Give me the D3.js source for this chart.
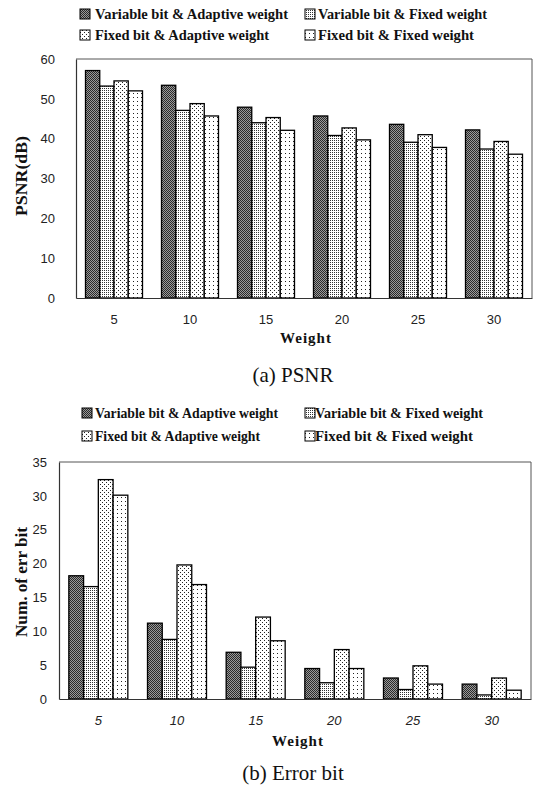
<!DOCTYPE html>
<html><head><meta charset="utf-8">
<script src="https://cdn.jsdelivr.net/npm/d3@7"></script>
<style>body{margin:0;background:#fff}svg{display:block}</style>
</head><body>
<svg id="c" width="535" height="796"></svg>
<script>
const weights = ["5","10","15","20","25","30"];
const seriesNames = ["Variable bit & Adaptive weight","Variable bit & Fixed weight","Fixed bit & Adaptive weight","Fixed bit & Fixed weight"];
const psnrVarAdap = [57.1, 53.4, 47.9, 45.7, 43.6, 42.2];
const psnrVarFix  = [53.2, 47.1, 44.0, 40.8, 39.1, 37.4];
const psnrFixAdap = [54.5, 48.8, 45.3, 42.7, 41.0, 39.3];
const psnrFixFix  = [52.0, 45.7, 42.1, 39.7, 37.8, 36.1];
const errVarAdap = [18.2, 11.2, 6.9, 4.5, 3.1, 2.2];
const errVarFix  = [16.6, 8.8, 4.7, 2.4, 1.4, 0.6];
const errFixAdap = [32.4, 19.8, 12.1, 7.3, 4.9, 3.1];
const errFixFix  = [30.1, 16.9, 8.6, 4.5, 2.2, 1.3];
const psnrTicks = [0,10,20,30,40,50,60];
const errTicks = [0,5,10,15,20,25,30,35];

const svg = d3.select("#c");
const defs = svg.append("defs");
function pat(id, size, bg, dots){
  const p = defs.append("pattern").attr("id",id).attr("patternUnits","userSpaceOnUse")
    .attr("width",size).attr("height",size);
  p.append("rect").attr("width",size).attr("height",size).attr("fill",bg);
  dots.forEach(d=>p.append("rect").attr("x",d[0]).attr("y",d[1]).attr("width",1).attr("height",1).attr("fill",d[2]||"#000"));
}
pat("p0",2,"#9a9a9a",[[0,0,"#2a2a2a"],[1,1,"#2a2a2a"]]);
pat("p1",2,"#fff",[[0,0,"#333"]]);
pat("p2",4,"#fff",[[0,0,"#222"],[2,2,"#222"]]);
pat("p3",4,"#fff",[[1,1,"#222"]]);
const fills = ["url(#p0)","url(#p1)","url(#p2)","url(#p3)"];

function legend(rows){
  rows.forEach((r,i)=>{
    const g = svg.append("g");
    g.append("rect").attr("x",r.sx).attr("y",r.y-10).attr("width",10).attr("height",10)
      .attr("fill",fills[i]).attr("stroke","#000").attr("stroke-width",1);
    g.append("text").attr("x",r.tx).attr("y",r.y).attr("font-family","Liberation Serif")
      .attr("font-weight","bold").attr("font-size",14).attr("fill","#111")
      .attr("textLength",r.w).attr("lengthAdjust","spacingAndGlyphs").text(seriesNames[i]);
  });
}

function chart(o){
  const x0 = d3.scaleBand().domain(weights).range([o.x0,o.x1]).paddingInner(0.25).paddingOuter(0.125);
  const x1 = d3.scaleBand().domain(d3.range(4)).range([0,x0.bandwidth()]);
  const y = d3.scaleLinear().domain([0,o.max]).range([o.yb,o.yt]);
  // frame
  svg.append("path").attr("d",`M${o.x0},${o.yt}H${o.x1}V${o.yb}`).attr("fill","none")
    .attr("stroke","#555").attr("stroke-width",1);
  const rows = weights.map((w,i)=>({w, v:o.series.map(s=>s[i])}));
  const g = svg.append("g");
  rows.forEach(r=>{
    r.v.forEach((v,k)=>{
      g.append("rect").attr("x",x0(r.w)+x1(k)).attr("y",y(v))
        .attr("width",x1.bandwidth()).attr("height",y(0)-y(v))
        .attr("fill",fills[k]).attr("stroke","#000").attr("stroke-width",1.3);
    });
  });
  const ya = svg.append("g").attr("transform",`translate(${o.x0},0)`)
    .call(d3.axisLeft(y).tickValues(o.ticks).tickSize(0).tickPadding(o.tp));
  ya.select(".domain").attr("stroke","#333").attr("stroke-width",1.2);
  ya.selectAll("text").attr("font-family","Liberation Sans").attr("font-size",13).attr("fill","#222");
  const xa = svg.append("g").attr("transform",`translate(0,${o.yb})`)
    .call(d3.axisBottom(x0).tickSize(0).tickPadding(o.xp));
  xa.select(".domain").attr("stroke","#333").attr("stroke-width",1.2);
  xa.selectAll("text").attr("font-family","Liberation Sans").attr("font-size",13).attr("fill","#222")
    .attr("font-style",o.italic?"italic":"normal");
  svg.append("text").attr("transform",`translate(${o.ylx},${o.yly}) rotate(-90)`)
    .attr("text-anchor","middle").attr("font-family","Liberation Serif").attr("font-weight","bold")
    .attr("font-size",16).attr("fill","#111").attr("textLength",o.ylw).attr("lengthAdjust","spacingAndGlyphs")
    .text(o.ylabel);
  svg.append("text").attr("x",o.wx).attr("y",o.wy).attr("text-anchor","middle")
    .attr("font-family","Liberation Serif").attr("font-weight","bold").attr("font-size",15)
    .attr("letter-spacing",1).attr("fill","#111").text("Weight");
  svg.append("text").attr("x",o.cx).attr("y",o.cy).attr("text-anchor","middle")
    .attr("font-family","Liberation Serif").attr("font-size",21).attr("fill","#111").text(o.caption);
}

legend([
  {sx:80,tx:95,y:19,w:193},{sx:305,tx:318,y:19,w:169},
  {sx:80,tx:95,y:40,w:174},{sx:305,tx:318,y:40,w:156}
].map((r,i)=>r));
// fix order: legend indices correspond to series order
chart({x0:76,x1:532,yt:59,yb:298,max:60,ticks:psnrTicks,tp:21,xp:17,italic:false,
  series:[psnrVarAdap,psnrVarFix,psnrFixAdap,psnrFixFix],
  ylabel:"PSNR(dB)",ylx:27,yly:176,ylw:80,wx:306,wy:343,cx:293,cy:382,caption:"(a) PSNR"});

legend([
  {sx:82,tx:95,y:418,w:183},{sx:305,tx:315,y:418,w:168},
  {sx:82,tx:95,y:441,w:165},{sx:305,tx:315,y:441,w:158}
]);
chart({x0:59,x1:531,yt:462,yb:699,max:35,ticks:errTicks,tp:12,xp:17,italic:true,
  series:[errVarAdap,errVarFix,errFixAdap,errFixFix],
  ylabel:"Num. of err bit",ylx:27,yly:582,ylw:110,wx:298,wy:746,cx:293,cy:780,caption:"(b) Error bit"});
</script>
</body></html>
